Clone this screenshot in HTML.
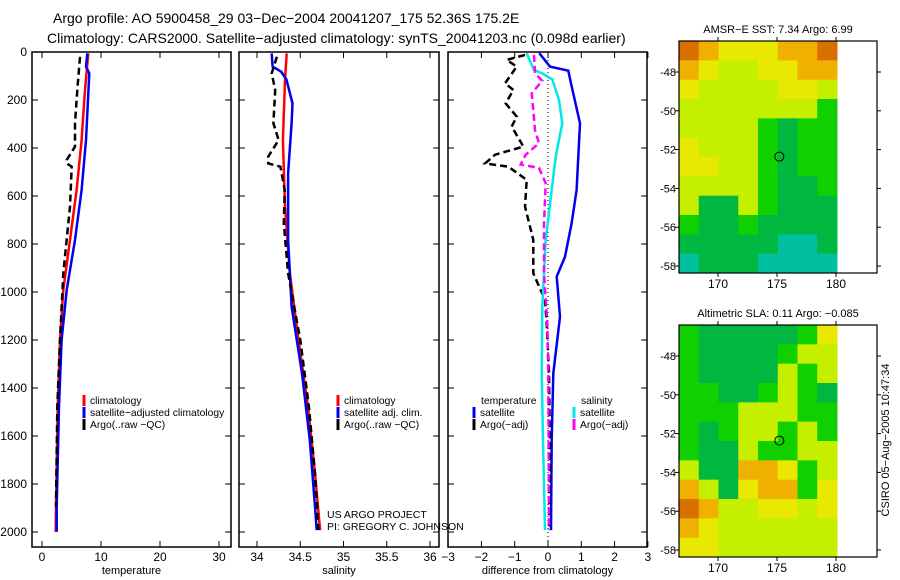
<!DOCTYPE html>
<html><head><meta charset="utf-8"><style>
body{margin:0;background:#fff;width:900px;height:580px;overflow:hidden}
svg{display:block;font-family:"Liberation Sans",sans-serif}
</style></head><body>
<svg id="c" width="900" height="580">
<text x="53" y="23" font-size="14">Argo profile: AO 5900458_29 03−Dec−2004 20041207_175 52.36S 175.2E</text>
<text x="47" y="43" font-size="14">Climatology: CARS2000. Satellite−adjusted climatology: synTS_20041203.nc (0.098d earlier)</text>
</svg>
<script>
// ---- data ----
const tempClimDepth=[6,158,367,575,783,992,1200,1478,1894,1999];
const tempClimVal=[7.85,7.29,6.72,5.87,4.74,3.61,3.05,2.66,2.37,2.32];
const tempSatDepth=[6,61,89,367,575,783,992,1200,1478,1894,1999];
const tempSatVal=[7.68,7.46,8.02,7.46,6.72,5.59,4.18,3.33,2.88,2.49,2.49];
const tempArgoDepth=[20,158,297,394,450,464,478,644,922,1200,1478,1894];
const tempArgoVal=[6.44,5.99,5.59,5.59,4.18,4.18,5.03,4.74,3.61,3.05,2.6,2.37];
const salClimDepth=[6,117,367,644,922,1200,1478,1756,1992];
const salClimVal=[34.343,34.324,34.30,34.324,34.38,34.48,34.59,34.67,34.73];
const salSatDepth=[6,61,82,114,214,297,506,783,1061,1339,1617,1894,1992];
const salSatVal=[34.17,34.18,34.28,34.34,34.41,34.40,34.36,34.36,34.40,34.52,34.61,34.67,34.69];
const salArgoDepth=[20,89,158,297,367,436,464,478,575,714,922,1200,1478,1756,1992];
const salArgoVal=[34.23,34.17,34.21,34.19,34.25,34.13,34.13,34.27,34.32,34.31,34.36,34.50,34.60,34.67,34.71];
const dTSatDepth=[5,61,78,131,297,575,714,853,936,1103,1339,1617,1992];
const dTSatVal=[-0.26,0.06,0.61,0.69,0.96,0.86,0.71,0.51,0.26,0.36,0.16,0.11,0.09];
const dTArgoDepth=[12,33,61,131,158,214,269,311,394,428,464,478,533,644,783,922,1033,1131,1339,1686,1992];
const dTArgoVal=[-0.69,-1.24,-0.94,-1.29,-1.04,-1.27,-0.94,-1.09,-0.74,-1.59,-1.89,-1.19,-0.64,-0.69,-0.44,-0.44,-0.09,-0.04,0.03,0.06,0.03];
const dSSatDepth=[5,75,89,114,200,297,436,575,783,1061,1339,1617,1992];
const dSSatVal=[-0.64,-0.42,-0.17,0.13,0.33,0.43,0.23,0.11,-0.07,-0.17,-0.19,-0.15,-0.09];
const dSArgoDepth=[12,89,120,172,228,325,380,428,469,483,547,714,922,1131,1339,1992];
const dSArgoVal=[-0.42,-0.39,-0.17,-0.49,-0.45,-0.39,-0.27,-0.67,-0.82,-0.27,-0.07,-0.12,-0.12,-0.02,0.01,0.03];
const depthTicks=[0,200,400,600,800,1000,1200,1400,1600,1800,2000];
const tempTicks=[0,10,20,30];
const salTicks=[34,34.5,35,35.5,36];
const salTickLabels=["34","34.5","35","35.5","36"];
const diffTicks=[-3,-2,-1,0,1,2,3];
const sstGrid=[[6,5,4,4,4,5,5,6],[5,4,3,3,4,4,5,5],[4,3,3,3,3,4,4,3],[3,3,3,3,3,3,3,2],[3,3,3,3,2,1,2,2],[4,3,3,3,2,1,2,2],[4,4,3,3,2,1,2,2],[3,3,3,3,2,1,1,2],[3,1,1,3,2,1,1,1],[2,1,1,2,1,1,1,1],[1,1,1,1,1,0,0,1],[0,1,1,1,0,0,0,0]];
const slaGrid=[[2,1,1,1,1,1,2,4],[2,1,1,1,1,2,3,3],[2,1,1,1,1,3,2,3],[2,2,1,1,2,3,2,1],[2,2,2,3,3,3,2,2],[2,1,2,3,3,2,3,2],[2,1,1,3,2,2,3,3],[3,1,1,5,5,4,2,3],[5,3,1,4,5,5,2,4],[6,5,3,3,4,4,3,4],[5,4,3,3,3,3,3,3],[4,4,3,3,3,3,3,3]];
const palette=['#00c0a0','#00b840','#10d000','#c4f000','#e8e800','#f0b000','#d87000'];
const latTicks=[-48,-50,-52,-54,-56,-58];
const lonTicks=[170,175,180];
const argoLon=175.2, argoLat=-52.36;

const svg=document.getElementById('c');
const NS='http://www.w3.org/2000/svg';
function el(tag,attrs,parent){const e=document.createElementNS(NS,tag);for(const k in attrs)e.setAttribute(k,attrs[k]);(parent||svg).appendChild(e);return e;}
function txt(x,y,s,anchor,size,parent){const t=el('text',{x:x,y:y,'font-size':size||12,'text-anchor':anchor||'start'},parent);t.textContent=s;return t;}

const top0=52, bot=547;
const yD=d=>top0+d*0.24;

function panel(name,x0,x1,xs,ticks,labels,title,showY){
  const g=el('g',{});
  
  
  const r=el('rect',{x:x0,y:top0,width:x1-x0,height:bot-top0,fill:'none',stroke:'#000','stroke-width':1.5},g);
  
  
  depthTicks.forEach(d=>{
    el('line',{x1:x0,x2:x0+6,y1:yD(d),y2:yD(d),stroke:'#000'},g);
    el('line',{x1:x1-6,x2:x1,y1:yD(d),y2:yD(d),stroke:'#000'},g);
    if(showY){const t=txt(x0-5,yD(d)+4,String(d),'end',12,g);
      
      }
  });
  ticks.forEach((v,i)=>{
    const X=xs(v);
    el('line',{x1:X,x2:X,y1:top0,y2:top0+6,stroke:'#000'},g);
    el('line',{x1:X,x2:X,y1:bot-6,y2:bot,stroke:'#000'},g);
    const t=txt(X,561,labels[i],'middle',12,g);
    
    
  });
  const tt=txt((x0+x1)/2,574,title,'middle',11,g);
  
  
  return g;
}
function series(name,depths,vals,xs,color,dash,w){
  const pts=depths.map((d,i)=>xs(vals[i]).toFixed(1)+','+yD(d).toFixed(1)).join(' ');
  const p=el('polyline',{points:pts,fill:'none',stroke:color,'stroke-width':w||2.5,'stroke-dasharray':dash||'none'});
  
  
}
function legend(x,y,color,label,dash){
  const l=el('line',{x1:x,x2:x,y1:y-9,y2:y+2,stroke:color,'stroke-width':3});
  
  
  const t=txt(x+6,y,label,'start',10.3);
  
  
}

// Panel 1 temperature
const xT=v=>42+v*5.9;
panel('temperature-panel',32,231,xT,tempTicks,tempTicks.map(String),'temperature',true);
series('temperature-climatology-line',tempClimDepth,tempClimVal,xT,'#f00');
series('temperature-satellite-line',tempSatDepth,tempSatVal,xT,'#0000f0');
series('temperature-argo-line',tempArgoDepth,tempArgoVal,xT,'#000','7,4');
legend(84,404,'#f00','climatology');legend(84,416,'#0000f0','satellite−adjusted climatology');legend(84,428,'#000','Argo(..raw −QC)');

// Panel 2 salinity
const xS=v=>257+(v-34)*86.5;
panel('salinity-panel',239,439,xS,salTicks,salTickLabels,'salinity',false);
series('salinity-climatology-line',salClimDepth,salClimVal,xS,'#f00');
series('salinity-satellite-line',salSatDepth,salSatVal,xS,'#0000f0');
series('salinity-argo-line',salArgoDepth,salArgoVal,xS,'#000','7,4');
legend(338,404,'#f00','climatology');legend(338,416,'#0000f0','satellite adj. clim.');legend(338,428,'#000','Argo(..raw −QC)');
let t1=txt(327,518,'US ARGO PROJECT','start',10.5);
let t2=txt(327,530,'PI: GREGORY C. JOHNSON','start',10.5);

// Panel 3 difference
const xDf=v=>548+v*33.3;
panel('difference-panel',448,647,xDf,diffTicks,diffTicks.map(v=>v<0?'−'+(-v):String(v)),'difference from climatology',false);
const zl=el('line',{x1:xDf(0),x2:xDf(0),y1:top0,y2:bot,stroke:'#000','stroke-dasharray':'1,3'});

series('temp-diff-satellite-line',dTSatDepth,dTSatVal,xDf,'#0000f0');
series('temp-diff-argo-line',dTArgoDepth,dTArgoVal,xDf,'#000','7,4');
series('sal-diff-satellite-line',dSSatDepth,dSSatVal,xDf,'#00e8e8');
series('sal-diff-argo-line',dSArgoDepth,dSArgoVal,xDf,'#f0f','7,4');
let lt=txt(481,404,'temperature','start',10.3);
let ls=txt(581,404,'salinity','start',10.3);
legend(474,416,'#0000f0','satellite');legend(474,428,'#000','Argo(−adj)');
legend(574,416,'#00e8e8','satellite');legend(574,428,'#f0f','Argo(−adj)');

// Maps
function map(name,title,grid,top,bottom,latY48,latY58){
  const g=el('g',{});
  
  
  const x0=679,x1=877,dx1=837;
  const lonX=lon=>718+(lon-170)*11.8;
  const latY=lat=>latY48+(-48-lat)*(latY58-latY48)/10;
  const rows=grid.length, cols=grid[0].length;
  const cw=(dx1-x0)/cols, ch=(bottom-top)/rows;
  grid.forEach((row,r)=>row.forEach((v,c)=>{
    const cell=el('rect',{x:x0+c*cw,y:top+r*ch,width:cw+0.5,height:ch+0.5,fill:palette[v]},g);
    
    
  }));
  el('rect',{x:x0,y:top,width:x1-x0,height:bottom-top,fill:'none',stroke:'#000','stroke-width':1.2},g);
  latTicks.forEach(l=>{const Y=latY(l);
    el('line',{x1:x0-4,x2:x0,y1:Y,y2:Y,stroke:'#000'},g);
    el('line',{x1:x1,x2:x1+4,y1:Y,y2:Y,stroke:'#000'},g);
    const t=txt(x0-3,Y+4,'-'+(-l),'end',11,g);
    
  });
  lonTicks.forEach(l=>{const X=lonX(l);
    el('line',{x1:X,x2:X,y1:top-4,y2:top,stroke:'#000'},g);
    el('line',{x1:X,x2:X,y1:bottom,y2:bottom+4,stroke:'#000'},g);
    const t=txt(X,bottom+15,String(l),'middle',12,g);
    
  });
  const tt=txt(778,top-8,title,'middle',11,g);
  
  const m=el('circle',{cx:lonX(argoLon),cy:latY(argoLat),r:4.5,fill:'none',stroke:'#000','stroke-width':1},g);
  
}
map('sst-map','AMSR−E SST: 7.34 Argo: 6.99',sstGrid,41,273,72,266);
map('sla-map','Altimetric SLA: 0.11 Argo: −0.085',slaGrid,325,557,356,550);
const cr=txt(0,0,'CSIRO 05−Aug−2005 10:47:34','middle',11);
cr.setAttribute('transform','translate(889,440) rotate(-90)');

</script>
</body></html>
